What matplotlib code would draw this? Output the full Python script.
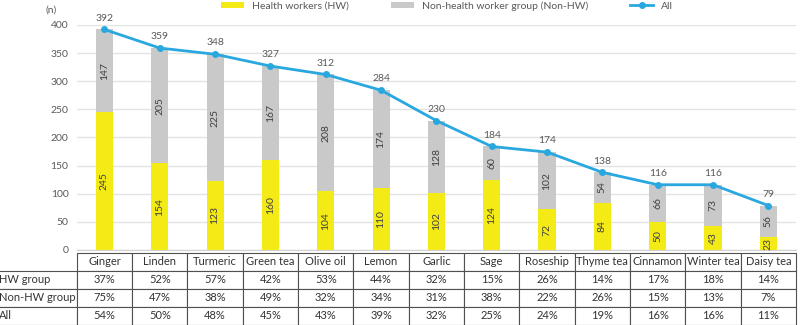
import numpy as np
import matplotlib.pyplot as plt

plt.rcParams['font.family'] = ['Lato', 'DejaVu Sans']

herbs = ['Ginger', 'Linden', 'Turmeric', 'Green tea', 'Olive oil', 'Lemon', 'Garlic',
         'Sage', 'Roseship', 'Thyme tea', 'Cinnamon', 'Winter tea', 'Daisy tea']
hw = [245, 154, 123, 160, 104, 110, 102, 124, 72, 84, 50, 43, 23]
non_hw = [147, 205, 225, 167, 208, 174, 128, 60, 102, 54, 66, 73, 56]
total = [392, 359, 348, 327, 312, 284, 230, 184, 174, 138, 116, 116, 79]

hw_pct = ['37%', '52%', '57%', '42%', '53%', '44%', '32%', '15%', '26%', '14%', '17%', '18%', '14%']
non_hw_pct = ['75%', '47%', '38%', '49%', '32%', '34%', '31%', '38%', '22%', '26%', '15%', '13%', '7%']
all_pct = ['54%', '50%', '48%', '45%', '43%', '39%', '32%', '25%', '24%', '19%', '16%', '16%', '11%']
row_names = ['HW group', 'Non-HW group', 'All']

txt = '#595959'
yellow = '#F4EB16'
grey = '#C9C9C9'
blue = '#29A8E0'

fig = plt.figure(figsize=(8, 3.25), dpi=100)
ax = fig.add_axes([0.096, 0.2308, 0.899, 0.6923])

x = np.arange(len(herbs))
w = 0.31
b1 = ax.bar(x, hw, w, color=yellow, label='Health workers (HW)', zorder=2)
b2 = ax.bar(x, non_hw, w, bottom=hw, color=grey, label='Non-health worker group (Non-HW)', zorder=2)
ln, = ax.plot(x, total, color=blue, lw=2, marker='o', ms=4, label='All', zorder=3, clip_on=False)

for i in range(len(herbs)):
    ax.text(x[i], hw[i] / 2, str(hw[i]), rotation=90, ha='center', va='center',
            fontsize=7.5, color='#404040', zorder=4)
    ax.text(x[i], hw[i] + non_hw[i] / 2, str(non_hw[i]), rotation=90, ha='center',
            va='center', fontsize=7.5, color='#404040', zorder=4)
    ax.text(x[i], total[i] + 12, str(total[i]), ha='center', va='bottom',
            fontsize=7.5, color=txt)

ax.set_xlim(-0.5, len(herbs) - 0.5)
ax.set_ylim(0, 400)
ax.set_yticks(np.arange(0, 401, 50))
ax.set_xticks([])
ax.tick_params(axis='y', length=0, labelsize=7.5, labelcolor=txt, pad=6)
ax.grid(axis='y', color='#E3E3E3', lw=1, zorder=0)
for s in ['top', 'right', 'left']:
    ax.spines[s].set_visible(False)
ax.spines['bottom'].set_color('#D0D0D0')
ax.text(-0.028, 1.055, '(n)', transform=ax.transAxes, fontsize=7.5, color=txt, ha='right')

ax.legend(handles=[b1, b2, ln], loc='upper center', bbox_to_anchor=(0.515, 1.125), ncol=3,
          frameon=False, fontsize=7.5, labelcolor=txt, handlelength=2.2, handleheight=0.6,
          columnspacing=4, borderaxespad=0)

tab = ax.table(cellText=[hw_pct, non_hw_pct, all_pct], rowLabels=row_names,
               colLabels=herbs, cellLoc='center', rowLoc='left',
               bbox=[0, -0.333, 1.0, 0.32])
tab.auto_set_font_size(False)
tab.set_fontsize(8)
for (r, c), cell in tab.get_celld().items():
    cell.set_edgecolor('#505050')
    cell.set_linewidth(0.8)
    cell.get_text().set_color('#333333')
    if c == -1:
        cell.set_width(77 / 719)
        cell.PAD = 0.02

fig.savefig('out.png', dpi=100)
